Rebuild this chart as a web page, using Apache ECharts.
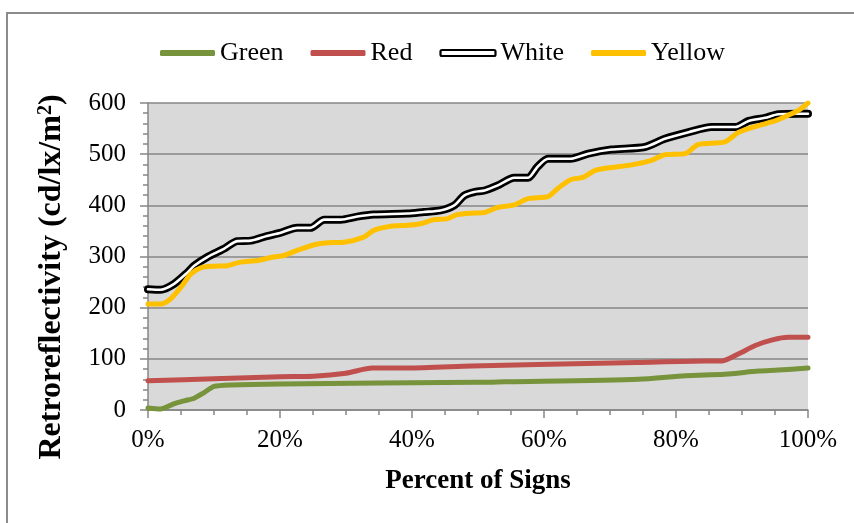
<!DOCTYPE html>
<html>
<head>
<meta charset="utf-8">
<script src="https://cdn.jsdelivr.net/npm/echarts@6/dist/echarts.min.js"></script>
<style>html,body{margin:0;padding:0;background:#fff}#c{width:854px;height:523px}</style>
</head>
<body>
<div id="c"></div>
<script>
// ---- data ----
const seriesNames = ['Green', 'Red', 'White', 'Yellow'];
const xTickLabels = ['0%', '20%', '40%', '60%', '80%', '100%'];
const yTickLabels = ['0', '100', '200', '300', '400', '500', '600'];

const greenPct = [0,1.9,3.9,5.5,7,8.5,10,12.5,20,50,54,74.3,81.4,87.4,92.5,95.5,100];
const greenVal = [4,2,12,18,23,34,46,49,51,54,55,60,67,70,76,78,82];

const redPct = [0,10,20,25,30,34,39.3,49,59,74,84.4,87,89.5,92,94.6,97,100];
const redVal = [57,61,65,66,72,82,82,86,89,93,96,96,110,126,137,142,142];

const whitePct = [0,1.9,3.9,6,7,9,11.5,13.5,15.6,18,20,22.6,24.6,26.7,29.2,31.7,34.2,39.3,41.8,44.3,46.4,47.9,49.4,51,53,55.5,57.6,59,60.6,64,66.7,70.2,75.3,78.3,81.9,85.4,89,91,93.5,95.5,98.6,100];
const whiteVal = [236,235,246,269,282,299,315,330,331,340,346,356,356,372,372,378,382,384,387,390,400,419,426,429,439,454,454,475,491,491,501,509,514,530,543,553,553,565,571,578,579,579];

const yellowPct = [0,1.9,3.4,5,6.5,8,10,12,14,16.6,19,20.6,22.6,25.2,27.2,29.7,32.7,34.2,36.8,39.3,41.3,43.3,45.4,46.9,49.4,51,53,55.5,57.6,60.6,62,64,66,67.7,70.2,73.3,76.3,78.3,81.4,83.4,87.4,89.5,92.5,95,97,98.6,100];
const yellowVal = [207,207,217,240,266,278,281,282,289,292,299,302,312,323,327,328,338,351,359,361,364,372,374,382,385,386,396,401,413,417,432,450,455,468,474,479,488,499,501,519,524,543,556,565,576,586,600];

const zip = (xs, ys) => xs.map((x, i) => [x, ys[i]]);

const FONT = 'Liberation Serif';
const AX = '#868686';
const C = { Green: '#77933C', Red: '#C0504D', Black: '#000000', Yellow: '#FFC000' };

const chart = echarts.init(document.getElementById('c'), null, { renderer: 'canvas' });
chart.setOption({
  animation: false,
  backgroundColor: '#ffffff',
  graphic: [
    { type: 'rect', z: -10, shape: { x: 7, y: 13, width: 900, height: 600 },
      style: { fill: 'none', stroke: '#8c8c8c', lineWidth: 2 } },
    { type: 'text', x: 52, y: 277, rotation: Math.PI / 2,
      style: {
        text: '{a|Retroreflectivity (cd/lx/m}{s|2}{a|)}',
        align: 'center', verticalAlign: 'middle',
        rich: {
          a: { fontFamily: FONT, fontWeight: 'bold', fontSize: 32, fill: '#000', verticalAlign: 'bottom' },
          s: { fontFamily: FONT, fontWeight: 'bold', fontSize: 20, fill: '#000', verticalAlign: 'top' }
        }
      } }
  ],
  legend: {
    left: 155, top: 35,
    itemWidth: 55, itemHeight: 6, itemGap: 27,
    textStyle: { fontFamily: FONT, fontSize: 26, color: '#000', padding: [0, 0, 0, 0] },
    data: [
      { name: 'Green', icon: 'roundRect', itemStyle: { color: C.Green, borderWidth: 0 } },
      { name: 'Red', icon: 'roundRect', itemStyle: { color: C.Red, borderWidth: 0 } },
      { name: 'White', icon: 'roundRect', itemStyle: { color: '#ffffff', borderColor: '#000', borderWidth: 2.2 } },
      { name: 'Yellow', icon: 'roundRect', itemStyle: { color: C.Yellow, borderWidth: 0 } }
    ]
  },
  grid: { left: 148, right: 46, top: 103, bottom: 113, show: true, backgroundColor: '#D9D9D9', borderWidth: 0 },
  xAxis: {
    type: 'value', min: 0, max: 100, interval: 20,
    name: 'Percent of Signs', nameLocation: 'middle', nameGap: 58,
    nameTextStyle: { fontFamily: FONT, fontWeight: 'bold', fontSize: 27, color: '#000' },
    axisLine: { show: true, lineStyle: { color: AX, width: 1.5 } },
    axisTick: { show: true, length: 8, lineStyle: { color: AX, width: 1.5 } },
    minorTick: { show: true, splitNumber: 4, length: 5, lineStyle: { color: AX, width: 1.5 } },
    splitLine: { show: false },
    axisLabel: { margin: 18, fontFamily: FONT, fontSize: 25, color: '#000',
      formatter: v => xTickLabels[Math.round(v / 20)] }
  },
  yAxis: {
    type: 'value', min: 0, max: 600, interval: 100,
    axisLine: { show: true, lineStyle: { color: AX, width: 1.5 } },
    axisTick: { show: true, length: 8, lineStyle: { color: AX, width: 1.5 } },
    minorTick: { show: true, splitNumber: 5, length: 5, lineStyle: { color: AX, width: 1.5 } },
    splitLine: { show: true, lineStyle: { color: AX, width: 1.5 } },
    axisLabel: { margin: 22, fontFamily: FONT, fontSize: 25, color: '#000',
      formatter: v => yTickLabels[Math.round(v / 100)] }
  },
  series: [
    { name: 'Green', type: 'line', data: zip(greenPct, greenVal), showSymbol: false, symbol: 'none', smooth: 0.25,
      lineStyle: { color: C.Green, width: 5, cap: 'round', join: 'round' }, itemStyle: { color: C.Green } },
    { name: 'Red', type: 'line', data: zip(redPct, redVal), showSymbol: false, symbol: 'none', smooth: 0.25,
      lineStyle: { color: C.Red, width: 5, cap: 'round', join: 'round' }, itemStyle: { color: C.Red } },
    { name: 'White', type: 'line', data: zip(whitePct, whiteVal), showSymbol: false, symbol: 'none', smooth: 0.25,
      lineStyle: { color: '#000', width: 8, cap: 'round', join: 'round' }, itemStyle: { color: '#000' } },
    { name: 'White', type: 'line', data: zip(whitePct, whiteVal), showSymbol: false, symbol: 'none', smooth: 0.25,
      lineStyle: { color: '#fff', width: 2.6, cap: 'round', join: 'round' }, itemStyle: { color: '#fff' } },
    { name: 'Yellow', type: 'line', data: zip(yellowPct, yellowVal), showSymbol: false, symbol: 'none', smooth: 0.25,
      lineStyle: { color: C.Yellow, width: 5, cap: 'round', join: 'round' }, itemStyle: { color: C.Yellow } }
  ]
});
</script>
</body>
</html>
